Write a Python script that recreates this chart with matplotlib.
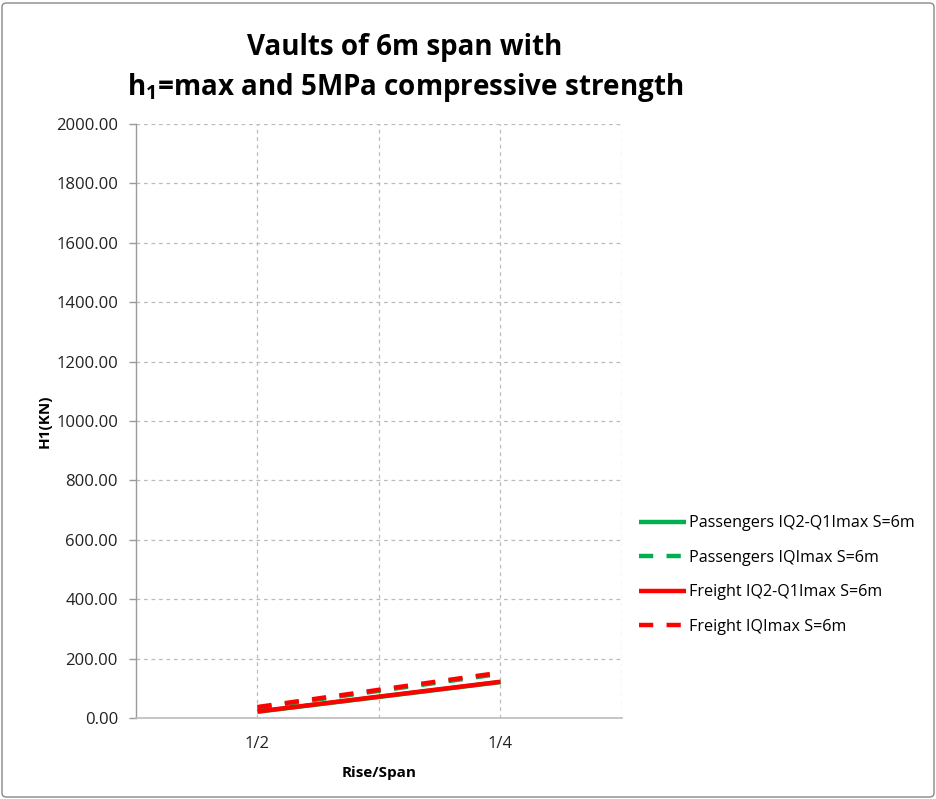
import matplotlib
matplotlib.use("Agg")
import matplotlib.pyplot as plt
from matplotlib.patches import FancyBboxPatch

categories = ["1/2", "1/4"]
passengers_iq2_q1 = [21, 121]
passengers_iqmax = [34, 149]
freight_iq2_q1 = [22, 122]
freight_iqmax = [37, 153]

labels = ["Passengers IQ2-Q1Imax S=6m", "Passengers IQImax S=6m",
          "Freight IQ2-Q1Imax S=6m", "Freight IQImax S=6m"]

plt.rcParams['font.family'] = ['Open Sans', 'DejaVu Sans']

fig = plt.figure(figsize=(9.37, 7.99), dpi=100)
ax = fig.add_axes([136/937, 1-718/799, (622-136)/937, (718-124)/799])

xpos = [1, 3]
green = "#00B050"
red = "#FF0000"
lw = 3.2
dash = (3.2, 3.0)
ax.plot(xpos, passengers_iq2_q1, color=green, lw=lw, label=labels[0], solid_capstyle='butt')
ax.plot(xpos, passengers_iqmax, color=green, lw=lw, ls=(0, dash), label=labels[1])
ax.plot(xpos, freight_iq2_q1, color=red, lw=lw, label=labels[2], solid_capstyle='butt')
ax.plot(xpos, freight_iqmax, color=red, lw=lw, ls=(0, dash), label=labels[3])

ax.set_xlim(0, 4)
ax.set_ylim(0, 2000)
ax.set_yticks(range(0, 2001, 200))
ax.set_yticklabels([f"{v:.2f}" for v in range(0, 2001, 200)], fontsize=12, color="#222222")
ax.set_xticks(xpos)
ax.set_xticklabels(categories, fontsize=12, color="#222222")
ax.tick_params(axis='x', which='both', length=0, pad=13)
ax.tick_params(axis='y', length=5, width=1, color="#999999", pad=8)

ax.grid(False)
for xv in [1, 2, 3, 4]:
    ax.axvline(xv, color="#bbbbbb", lw=0.9, ls=(0, (3, 3)), zorder=0)
for yv in range(200, 2001, 200):
    ax.axhline(yv, color="#bbbbbb", lw=0.9, ls=(0, (3, 3)), zorder=0)

for s in ['top', 'right']:
    ax.spines[s].set_visible(False)
ax.spines['left'].set_color("#999999")
ax.spines['bottom'].set_color("#bbbbbb")
ax.spines['left'].set_linewidth(1)
ax.spines['bottom'].set_linewidth(1.2)

ax.set_xlabel("Rise/Span", fontsize=11, fontweight='bold', labelpad=10)
ax.set_ylabel("H1(KN)", fontsize=11, fontweight='bold', labelpad=3)

fig.text(405/937, 1-48/799, "Vaults of 6m span with", ha='center', va='center',
         fontsize=20, fontweight='bold')
fig.text(405/937, 1-88/799, r"h$_\mathregular{1}$=max and 5MPa compressive strength", ha='center', va='center',
         fontsize=20, fontweight='bold')

leg = fig.legend(loc='upper left', bbox_to_anchor=(633/937, 1-509/799), frameon=False,
                 fontsize=11.6, handlelength=2.9, handletextpad=0.15, labelspacing=1.15,
                 borderaxespad=0)

border = FancyBboxPatch((2/937, 2/799), 1-5/937, 1-5/799, boxstyle="round,pad=0,rounding_size=0.005",
                        transform=fig.transFigure, fill=False, edgecolor="#888888", lw=1)
fig.patches.append(border)

fig.savefig("out.png", dpi=100)
